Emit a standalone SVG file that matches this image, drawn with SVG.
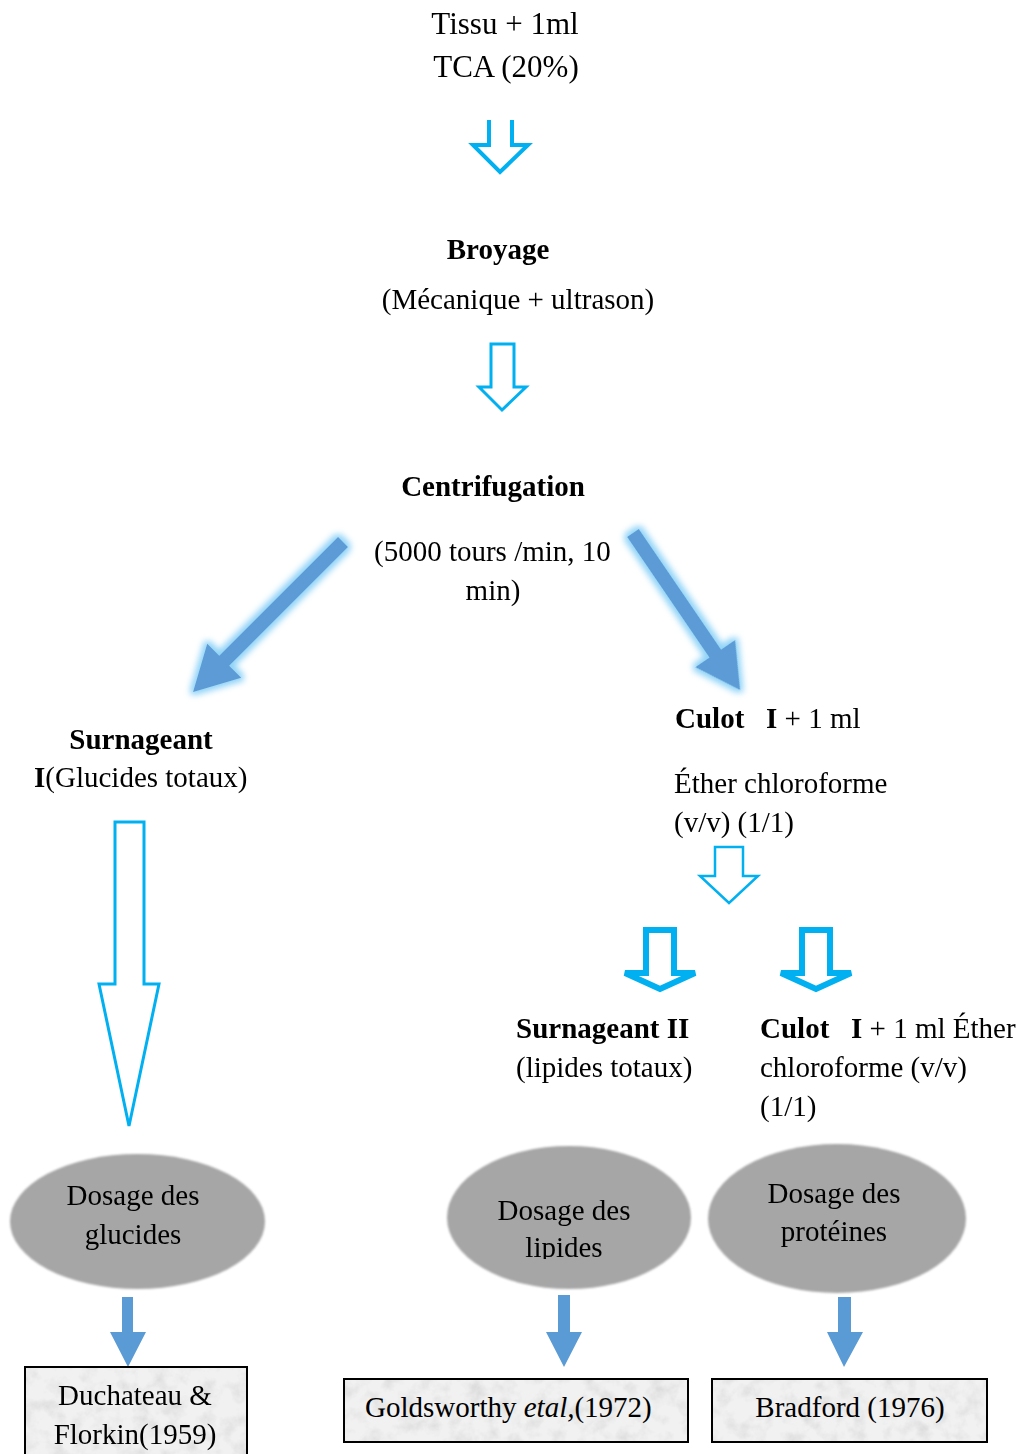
<svg xmlns="http://www.w3.org/2000/svg" width="1024" height="1454" viewBox="0 0 1024 1454">
<style>
text{font-family:"Liberation Serif","Times New Roman",serif;font-size:29px;fill:#000;white-space:pre}
.b{font-weight:bold}
.c{text-anchor:middle}
.big{font-size:31px}
.ol{fill:#fff;stroke:#00b0f0;stroke-linejoin:miter}
.sol{fill:#5b9bd5}
.ell{fill:#a6a6a6}
.box{fill:none;stroke:#000;stroke-width:2}
</style>
<defs>
<filter id="glow" x="-30%" y="-30%" width="160%" height="160%">
<feMorphology in="SourceAlpha" operator="dilate" radius="3" result="d"/>
<feGaussianBlur in="d" stdDeviation="3" result="bl"/>
<feFlood flood-color="#8fd3f7"/>
<feComposite in2="bl" operator="in" result="g"/>
<feMerge><feMergeNode in="g"/><feMergeNode in="SourceGraphic"/></feMerge>
</filter>
<filter id="tex" x="0" y="0" width="100%" height="100%">
<feTurbulence type="fractalNoise" baseFrequency="0.06" numOctaves="4" seed="5" result="n"/>
<feColorMatrix in="n" type="matrix" values="0 0 0 0 0.72  0 0 0 0 0.72  0 0 0 0 0.72  2.2 0 0 0 -0.95" result="m"/>
<feFlood flood-color="#f1f1f1" result="f"/>
<feMerge result="all"><feMergeNode in="f"/><feMergeNode in="m"/></feMerge>
<feComposite in="all" in2="SourceAlpha" operator="in"/>
</filter>
<filter id="soft"><feGaussianBlur stdDeviation="0.8"/></filter>
<clipPath id="clipLip"><rect x="440" y="1140" width="260" height="119"/></clipPath>
</defs>

<g id="connectors">
<path class="ol" style="fill:none;stroke-width:4" d="M489,120 V145 H473 L500,172 L528,145 H512 V120"/>
<path class="ol" style="stroke-width:3" d="M491,344 H514 V387 H526 L502,410 L479,387 H491 Z"/>
<g filter="url(#glow)">
<path class="sol" transform="translate(343,542) rotate(135)" d="M0,-7 H168 V-24 L212,0 L168,24 V7 H0 Z"/>
<path class="sol" transform="translate(633,533) rotate(55.7)" d="M0,-7 H146 V-24 L190,0 L146,24 V7 H0 Z"/>
</g>
<path class="ol" style="stroke-width:3" d="M115,822 H144 V984 H159 L129,1126 L99,984 H115 Z"/>
<path class="ol" style="stroke-width:2.5" d="M715,847 H743 V876 H758 L729,903 L700,876 H715 Z"/>
<path class="ol" style="stroke-width:6" d="M646,930 H674 V973 H695 L660,989 L625,973 H646 Z"/>
<path class="ol" style="stroke-width:6" d="M802,930 H830 V973 H851 L816,989 L781,973 H802 Z"/>
<path class="sol" d="M122,1297 H133 V1332 H146 L128,1367 L110,1332 H122 Z"/>
<path class="sol" d="M558,1295 H570 V1332 H582 L564,1367 L546,1332 H558 Z"/>
<path class="sol" d="M838,1297 H851 V1332 H863 L844,1367 L827,1332 H838 Z"/>
</g>

<g id="n-tissu">
<text class="c big" x="505" y="34">Tissu + 1ml</text>
<text class="c big" x="506" y="77">TCA (20%)</text>
</g>
<g id="n-broyage">
<text class="c b" x="498" y="259">Broyage</text>
<text class="c" x="518" y="309">(Mécanique + ultrason)</text>
</g>
<g id="n-centrifugation">
<text class="c b" x="493" y="496">Centrifugation</text>
<text x="374" y="561">(5000 tours /min, 10</text>
<text class="c" x="493" y="600">min)</text>
</g>
<g id="n-surnageant1">
<text class="c b" x="141" y="749">Surnageant</text>
<text x="34" y="787"><tspan class="b">I</tspan>(Glucides totaux)</text>
</g>
<g id="n-culot1">
<text x="675" y="728"><tspan class="b">Culot   I</tspan> + 1 ml</text>
<text x="674" y="793">Éther chloroforme</text>
<text x="674" y="832">(v/v) (1/1)</text>
</g>
<g id="n-surnageant2">
<text class="b" x="516" y="1038">Surnageant II</text>
<text x="516" y="1077">(lipides totaux)</text>
</g>
<g id="n-culot2">
<text x="760" y="1038"><tspan class="b">Culot   I</tspan> + 1 ml Éther</text>
<text x="760" y="1077">chloroforme (v/v)</text>
<text x="760" y="1116">(1/1)</text>
</g>
<g id="n-dosage-glucides">
<ellipse class="ell" cx="137.5" cy="1221.5" rx="127.5" ry="67.5" filter="url(#soft)"/>
<text class="c" x="133" y="1205">Dosage des</text>
<text class="c" x="133" y="1244">glucides</text>
</g>
<g id="n-dosage-lipides">
<ellipse class="ell" cx="569" cy="1217.5" rx="122" ry="71.5" filter="url(#soft)"/>
<text class="c" x="564" y="1220">Dosage des</text>
<text class="c" x="564" y="1257" clip-path="url(#clipLip)">lipides</text>
</g>
<g id="n-dosage-proteines">
<ellipse class="ell" cx="837" cy="1218.5" rx="129" ry="74.5" filter="url(#soft)"/>
<text class="c" x="834" y="1203">Dosage des</text>
<text class="c" x="834" y="1241">protéines</text>
</g>
<g id="n-duchateau">
<rect x="25" y="1367" width="222" height="100" fill="#eee" filter="url(#tex)"/>
<rect class="box" x="25" y="1367" width="222" height="100"/>
<text class="c" x="135" y="1405">Duchateau &amp;</text>
<text class="c" x="135" y="1444">Florkin(1959)</text>
</g>
<g id="n-goldsworthy">
<rect x="344" y="1379" width="344" height="63" fill="#eee" filter="url(#tex)"/>
<rect class="box" x="344" y="1379" width="344" height="63"/>
<text x="365" y="1417">Goldsworthy <tspan font-style="italic">etal,</tspan>(1972)</text>
</g>
<g id="n-bradford">
<rect x="712" y="1379" width="275" height="63" fill="#eee" filter="url(#tex)"/>
<rect class="box" x="712" y="1379" width="275" height="63"/>
<text class="c" x="850" y="1417">Bradford (1976)</text>
</g>
</svg>
